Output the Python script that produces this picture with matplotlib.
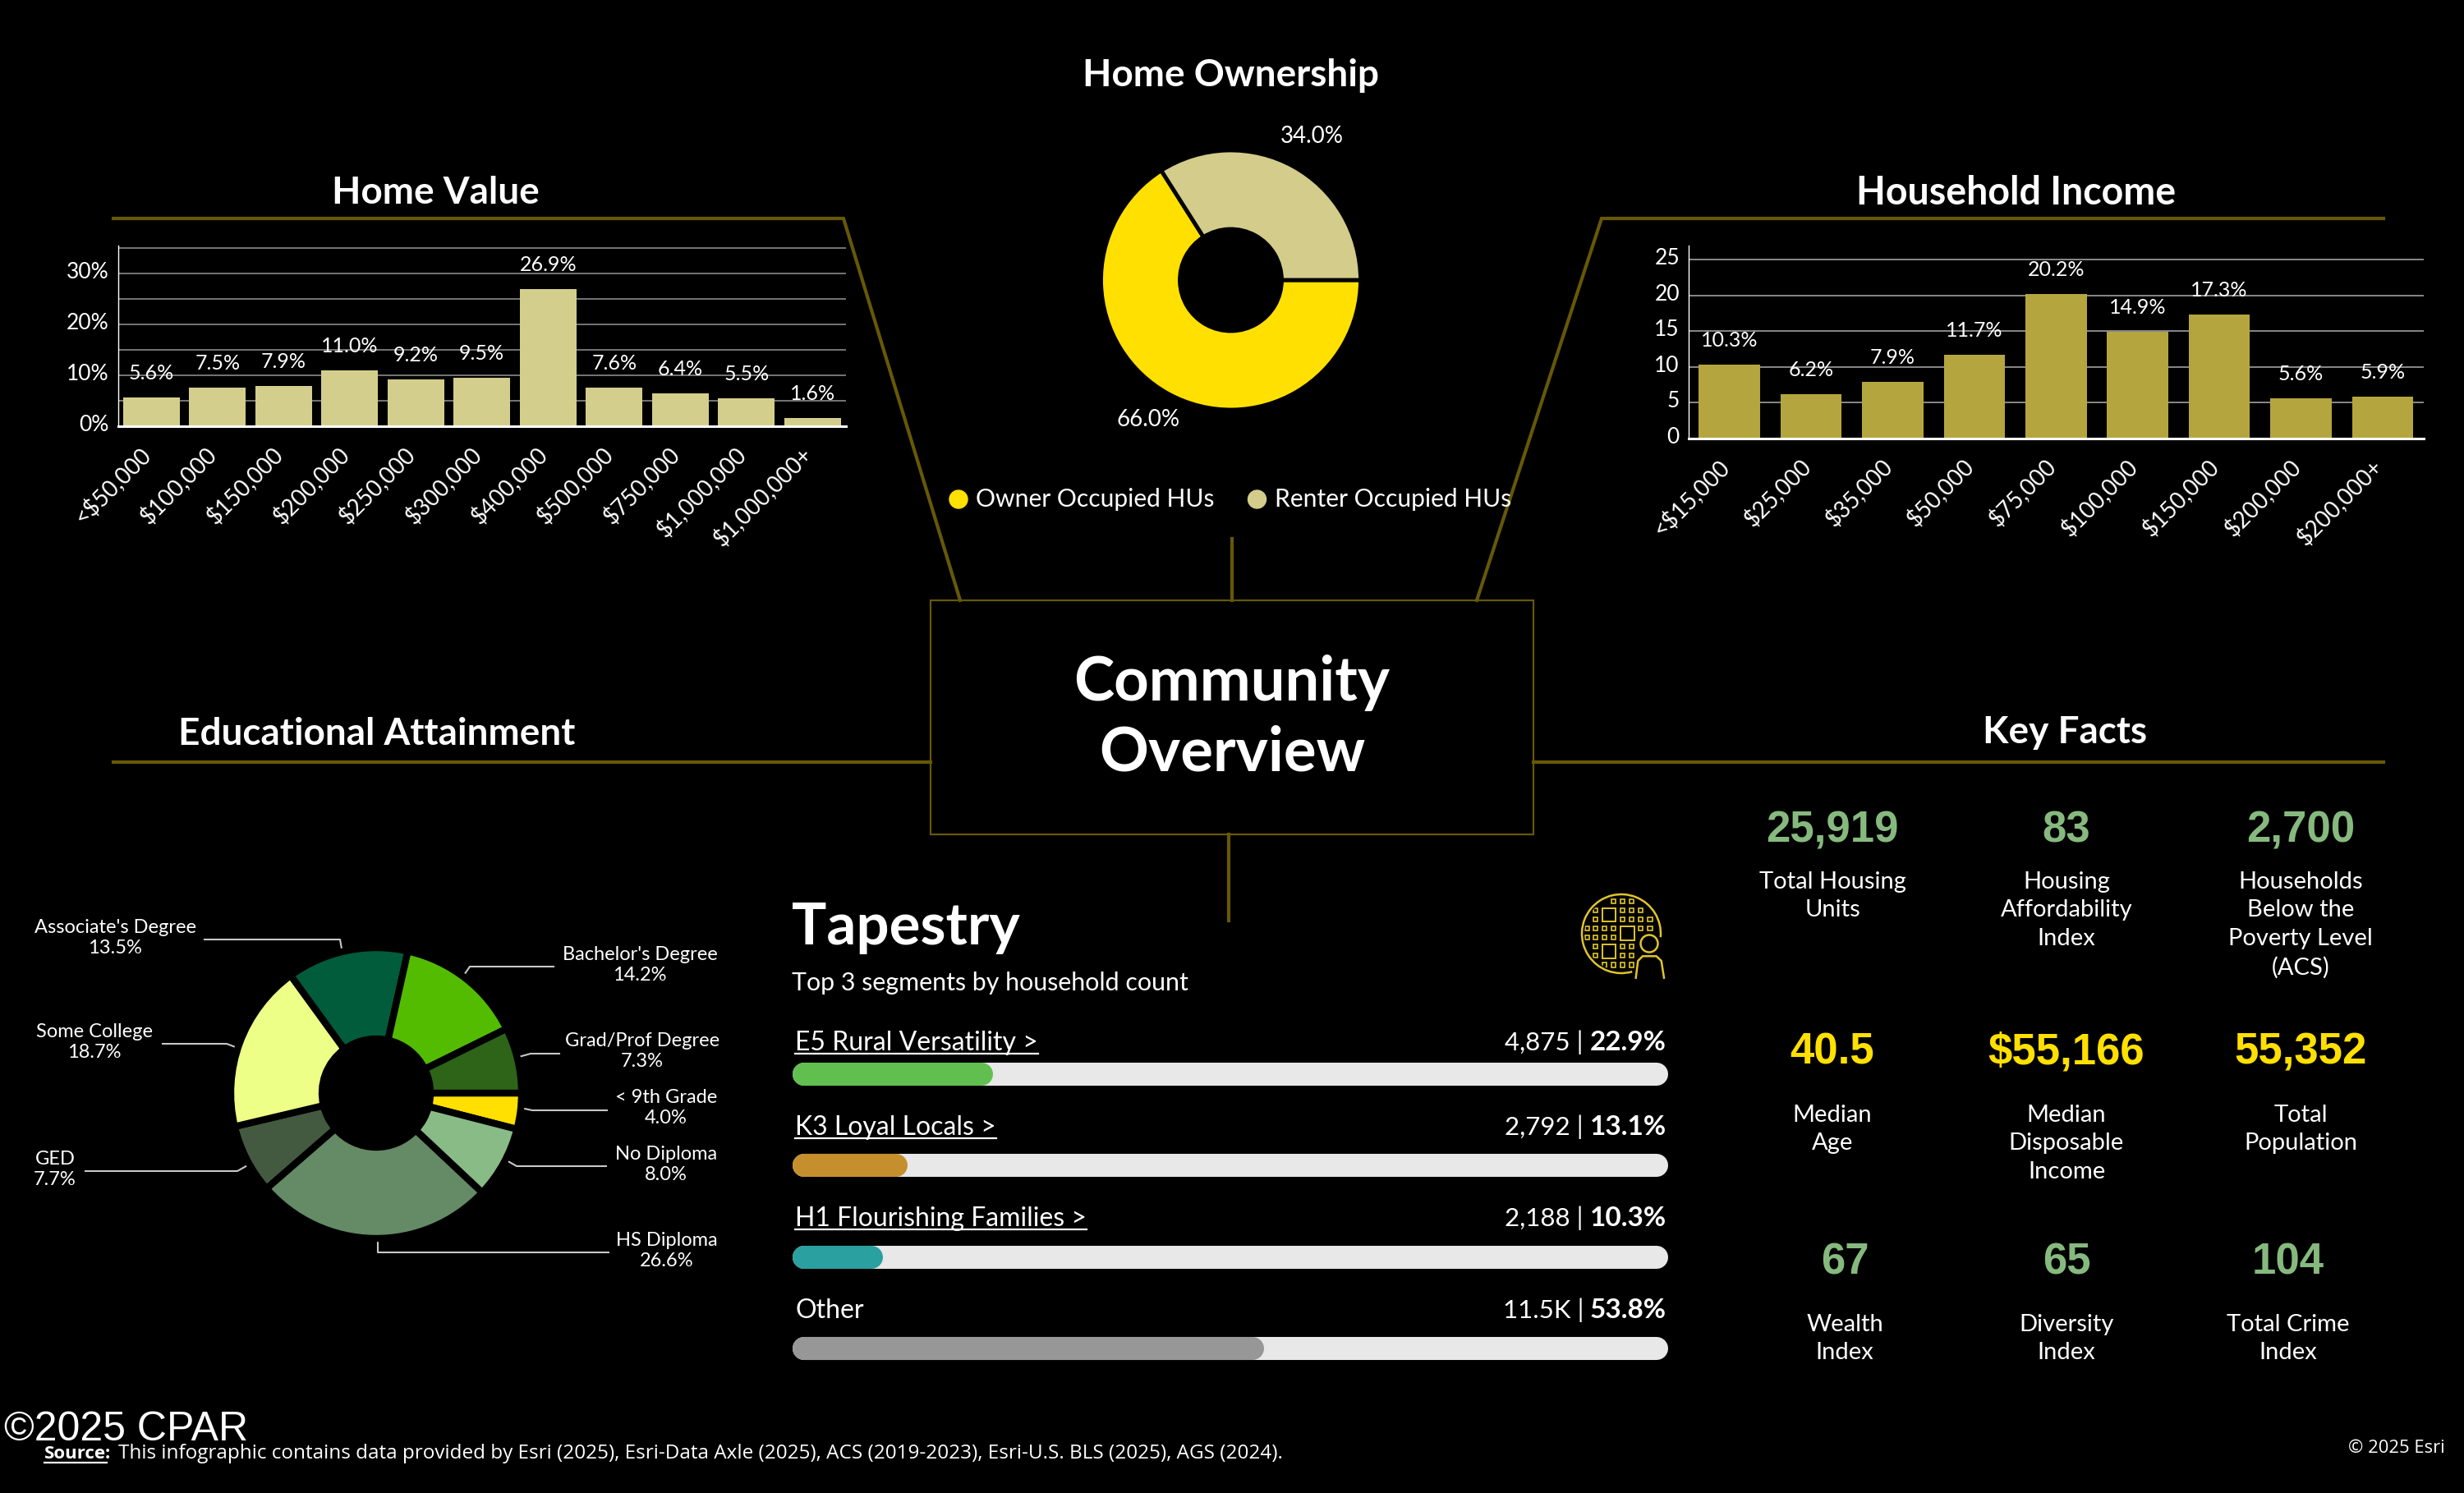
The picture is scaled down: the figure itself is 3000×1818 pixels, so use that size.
import matplotlib
matplotlib.use("Agg")
import matplotlib.pyplot as plt
from matplotlib.patches import Rectangle, Circle, Arc
from matplotlib.transforms import ScaledTranslation

plt.rcParams['font.family'] = ['Lato', 'DejaVu Sans']

value_labels = ["<$50,000", "$100,000", "$150,000", "$200,000", "$250,000", "$300,000",
                "$400,000", "$500,000", "$750,000", "$1,000,000", "$1,000,000+"]
value_pct = [5.6, 7.5, 7.9, 11.0, 9.2, 9.5, 26.9, 7.6, 6.4, 5.5, 1.6]

income_labels = ["<$15,000", "$25,000", "$35,000", "$50,000", "$75,000", "$100,000",
                 "$150,000", "$200,000", "$200,000+"]
income_pct = [10.3, 6.2, 7.9, 11.7, 20.2, 14.9, 17.3, 5.6, 5.9]

owner_labels = ["Owner Occupied HUs", "Renter Occupied HUs"]
owner_pct = [66.0, 34.0]

edu_labels = ["< 9th Grade", "No Diploma", "HS Diploma", "GED", "Some College",
              "Associate's Degree", "Bachelor's Degree", "Grad/Prof Degree"]
edu_pct = [4.0, 8.0, 26.6, 7.7, 18.7, 13.5, 14.2, 7.3]
edu_colors = ["#FFE000", "#89BB87", "#658A66", "#435A40", "#EEFF88", "#005C3A", "#54BC00", "#2D6418"]

tapestry_names = ["E5 Rural Versatility >", "K3 Loyal Locals >", "H1 Flourishing Families >", "Other"]
tapestry_counts = ["4,875", "2,792", "2,188", "11.5K"]
tapestry_pct = [22.9, 13.1, 10.3, 53.8]
tapestry_colors = ["#61BF4F", "#C58F2E", "#2BA0A0", "#979797"]

fact_values = ["25,919", "83", "2,700", "40.5", "$55,166", "55,352", "67", "65", "104"]
fact_names = ["Total Housing\nUnits", "Housing\nAffordability\nIndex", "Households\nBelow the\nPoverty Level\n(ACS)",
              "Median\nAge", "Median\nDisposable\nIncome", "Total\nPopulation",
              "Wealth\nIndex", "Diversity\nIndex", "Total Crime\nIndex"]

W, H = 3000, 1818
GOLD = "#665808"
GREEN = "#86B97E"
YELLOW = "#FFE000"

fig = plt.figure(figsize=(W / 100, H / 100), dpi=100, facecolor="black")
page = fig.add_axes([0, 0, 1, 1])
page.set_xlim(0, W)
page.set_ylim(H, 0)
page.axis("off")


def px_axes(left, top, right, bottom):
    ax = fig.add_axes([left / W, 1 - bottom / H, (right - left) / W, (bottom - top) / H])
    ax.patch.set_alpha(0)
    return ax


def put(x, y, s, size, ha="center", va="center", **kw):
    return page.text(x, y, s, fontsize=size, ha=ha, va=va, color=kw.pop("color", "white"), **kw)


def bars(box, labels, values, width, color, ymax, yticks, yticklabels, grid_color, dx):
    ax = px_axes(*box)
    rects = ax.bar(range(len(values)), values, width=width, color=color, zorder=3)
    ax.bar_label(rects, labels=[f"{v:.1f}%" for v in values], padding=13, fontsize=18, color="white")
    ax.set_xlim(-0.5, len(values) - 0.5)
    ax.set_ylim(0, ymax)
    ax.set_yticks(yticks, yticklabels, fontsize=19, color="white")
    ax.set_xticks(range(len(values)), labels, rotation=45, ha="right", va="center",
                  rotation_mode="anchor", fontsize=20, color="white")
    ax.tick_params(axis="both", length=0)
    ax.tick_params(axis="x", pad=21)
    ax.tick_params(axis="y", pad=8)
    ax.grid(axis="y", color=grid_color, linewidth=1.2, zorder=1)
    ax.set_axisbelow(True)
    for lab in ax.get_xticklabels():
        lab.set_transform(lab.get_transform() + ScaledTranslation(dx / 100, 0, fig.dpi_scale_trans))
    for lab in ax.get_yticklabels():
        lab.set_transform(lab.get_transform() + ScaledTranslation(0, 4 / 100, fig.dpi_scale_trans))
    for side in ("top", "right"):
        ax.spines[side].set_visible(False)
    ax.spines["left"].set_color("white")
    ax.spines["left"].set_linewidth(1)
    ax.spines["bottom"].set_color("white")
    ax.spines["bottom"].set_linewidth(2.2)
    ax.spines["bottom"].set_zorder(5)
    return ax


def donut(cx, cy, r, hole, values, colors, gap):
    ax = px_axes(cx - r, cy - r, cx + r, cy + r)
    ax.pie(values, colors=colors, startangle=0, counterclock=False, radius=1,
           wedgeprops=dict(width=1 - hole / r, edgecolor="black", linewidth=gap))
    ax.set_xlim(-1, 1)
    ax.set_ylim(-1, 1)
    return ax


# frame lines
for xs, ys in [([138, 1027, 1169], [266, 266, 731]),
               ([2902, 1950, 1798], [266, 266, 731]),
               ([138, 1133], [928, 928]),
               ([1867, 2902], [928, 928]),
               ([1500, 1500], [656, 731]),
               ([1496, 1496], [1016, 1121])]:
    page.plot(xs, ys, color=GOLD, lw=3, solid_joinstyle="miter")
page.add_patch(Rectangle((1133, 731), 734, 285, fill=False, edgecolor=GOLD, lw=1.6))

# section titles
put(1498, 92, "Home Ownership", 33, weight="bold")
put(530, 235, "Home Value", 33, weight="bold")
put(2455, 235, "Household Income", 33.5, weight="bold")
put(459, 894, "Educational Attainment", 33, weight="bold")
put(2514, 892, "Key Facts", 33, weight="bold")
put(1500, 832, "Community", 53.5, weight="bold")
put(1500, 917, "Overview", 53.5, weight="bold")

# home value
bars((144, 299.3, 1029.5, 519), value_labels, value_pct, 0.86, "#D4CE8C", 35.4,
     [0, 5, 10, 15, 20, 25, 30, 35], ["0%", "", "10%", "", "20%", "", "30%", ""], "#8A8A8A", -5.5)

# household income
bars((2056, 299.3, 2950.5, 534), income_labels, income_pct, 0.75, "#B5A53F", 26.95,
     [0, 5, 10, 15, 20, 25], ["0", "5", "10", "15", "20", "25"], "#A0A0A0", -5)

# home ownership
donut(1498.5, 341, 158, 62, owner_pct, [YELLOW, "#D3CC8B"], 3.5)
put(1398, 511, f"{owner_pct[0]:.1f}%", 20)
put(1597, 166, f"{owner_pct[1]:.1f}%", 20)
page.add_patch(Circle((1167, 608), 11, color=YELLOW))
page.add_patch(Circle((1530.5, 608), 11, color="#D3CC8B"))
put(1188, 608, owner_labels[0], 21.6, ha="left")
put(1552, 608, owner_labels[1], 21.6, ha="left")

# educational attainment
donut(458, 1331, 177, 66, edu_pct, edu_colors, 6)
edu_text_pos = [(811, 1349), (811, 1418), (812, 1523), (67, 1424), (115, 1269), (140, 1142), (779, 1175), (782, 1280)]
edu_leaders = [([739, 648, 634], [1352, 1352, 1349]),
               ([738, 629, 615], [1420, 1420, 1412]),
               ([741, 459.5, 459.5], [1525, 1525, 1508]),
               ([104, 289, 305], [1426, 1426, 1417]),
               ([198, 276, 292], [1271, 1271, 1277]),
               ([249, 414, 417], [1144, 1144, 1161]),
               ([674, 572, 563], [1177, 1177, 1190]),
               ([681, 646, 628], [1283, 1283, 1288])]
for name, v, (x, y), (lx, ly) in zip(edu_labels, edu_pct, edu_text_pos, edu_leaders):
    put(x, y, f"{name}\n{v:.1f}%", 17, linespacing=1.2)
    page.plot(lx, ly, color="#C8C8C8", lw=1.5)

# tapestry
put(964, 1130, "Tapestry", 51, ha="left", weight="bold")
put(964, 1197, "Top 3 segments by household count", 21.9, ha="left")

tap = px_axes(965, 1251.75, 2031, 1697.75)
tap.set_xlim(0, 100)
tap.set_ylim(3.5, -0.5)
tap.axis("off")
cap = 14 / 1066 * 100
for i, (v, c) in enumerate(zip(tapestry_pct, tapestry_colors)):
    tap.plot([cap, 100 - cap], [i, i], color="#E8E8E8", lw=20.2, solid_capstyle="round", clip_on=False)
    tap.plot([cap, v - cap], [i, i], color=c, lw=20.2, solid_capstyle="round", clip_on=False)

baselines = [1279, 1382, 1493, 1605]
fig.canvas.draw()
rend = fig.canvas.get_renderer()
for i, (name, count, v) in enumerate(zip(tapestry_names, tapestry_counts, tapestry_pct)):
    y = baselines[i]
    t = put(968, y, name, 23, ha="left", va="baseline")
    if name != "Other":
        ext = t.get_window_extent(rend)
        page.plot([968, ext.x1], [y + 4, y + 4], color="white", lw=1.6)
    put(1928, y, f"{count} |", 22.5, ha="right", va="baseline")
    put(2029, y, f"{v:.1f}%", 24, ha="right", va="baseline", weight="bold")

# tapestry icon
ICON = "#E0C52B"
icon_clip = Circle((1974, 1137), 45, transform=page.transData)
page.add_patch(Arc((1974, 1137), 96, 96, theta1=74, theta2=365, color=ICON, lw=1.8))
col_x = [1932.3, 1942.3, 1953.3, 1964.3, 1975.7, 1986.7, 1997.7, 2009]
row_y = [1097.7, 1108.3, 1119.3, 1130.7, 1141.7, 1152.7, 1163.7, 1175]
for col, rows in enumerate([[3, 4], [1, 2, 3, 4, 5, 6], [3, 4, 7], [0, 3, 4, 7],
                            [0, 1, 2, 5, 6, 7], [0, 1, 2, 5, 6, 7], [1, 2, 3], [2, 3]]):
    for row in rows:
        sq = Rectangle((col_x[col] - 2.7, row_y[row] - 2.7), 5.4, 5.4, fill=False, edgecolor=ICON, lw=1.2)
        page.add_patch(sq)
        sq.set_clip_path(icon_clip)
for bx, by in [(1959, 1114), (1981.7, 1136.3), (1959, 1158.3)]:
    page.add_patch(Rectangle((bx - 8.3, by - 8.3), 16.6, 16.6, fill=False, edgecolor=ICON, lw=1.4))
page.add_patch(Circle((2008, 1149), 10.5, fill=False, edgecolor=ICON, lw=1.8))
page.plot([1991.7, 1994.3, 2000, 2016.7, 2022.7, 2026],
          [1190.7, 1170, 1164.3, 1164.3, 1170, 1190.7], color=ICON, lw=1.8)

# key facts
fact_x = [2231, 2516, 2801, 2231, 2516, 2801, 2246, 2516, 2786]
fact_y = [1011, 1011, 1011, 1282, 1282, 1282, 1537, 1537, 1537]
name_y = [1061, 1061, 1061, 1345, 1345, 1345, 1600, 1600, 1600]
fact_colors = [GREEN] * 3 + [YELLOW] * 3 + [GREEN] * 3
for val, name, x, y, ny, c in zip(fact_values, fact_names, fact_x, fact_y, name_y, fact_colors):
    put(x, y, val, 38, color=c, family="Liberation Sans", weight="bold")
    put(x, ny, name, 21, va="top", linespacing=1.4)

# footer
put(5, 1754, "\u00a92025 CPAR", 36, ha="left", va="baseline", family="Liberation Sans")
put(54, 1776, "Source", 16, ha="left", va="baseline", weight="bold", family="Open Sans")
put(128, 1776, ":", 16, ha="left", va="baseline", weight="bold", family="Open Sans")
page.plot([54, 130], [1781, 1781], color="white", lw=1.6)
put(144, 1776, "This infographic contains data provided by Esri (2025), Esri-Data Axle (2025), ACS (2019-2023), "
    "Esri-U.S. BLS (2025), AGS (2024).", 17.5, ha="left", va="baseline", family="Open Sans")
put(2977, 1769, "\u00a9 2025 Esri", 15.8, ha="right", va="baseline", family="Open Sans")

fig.savefig("out.png", dpi=100, facecolor="black")
